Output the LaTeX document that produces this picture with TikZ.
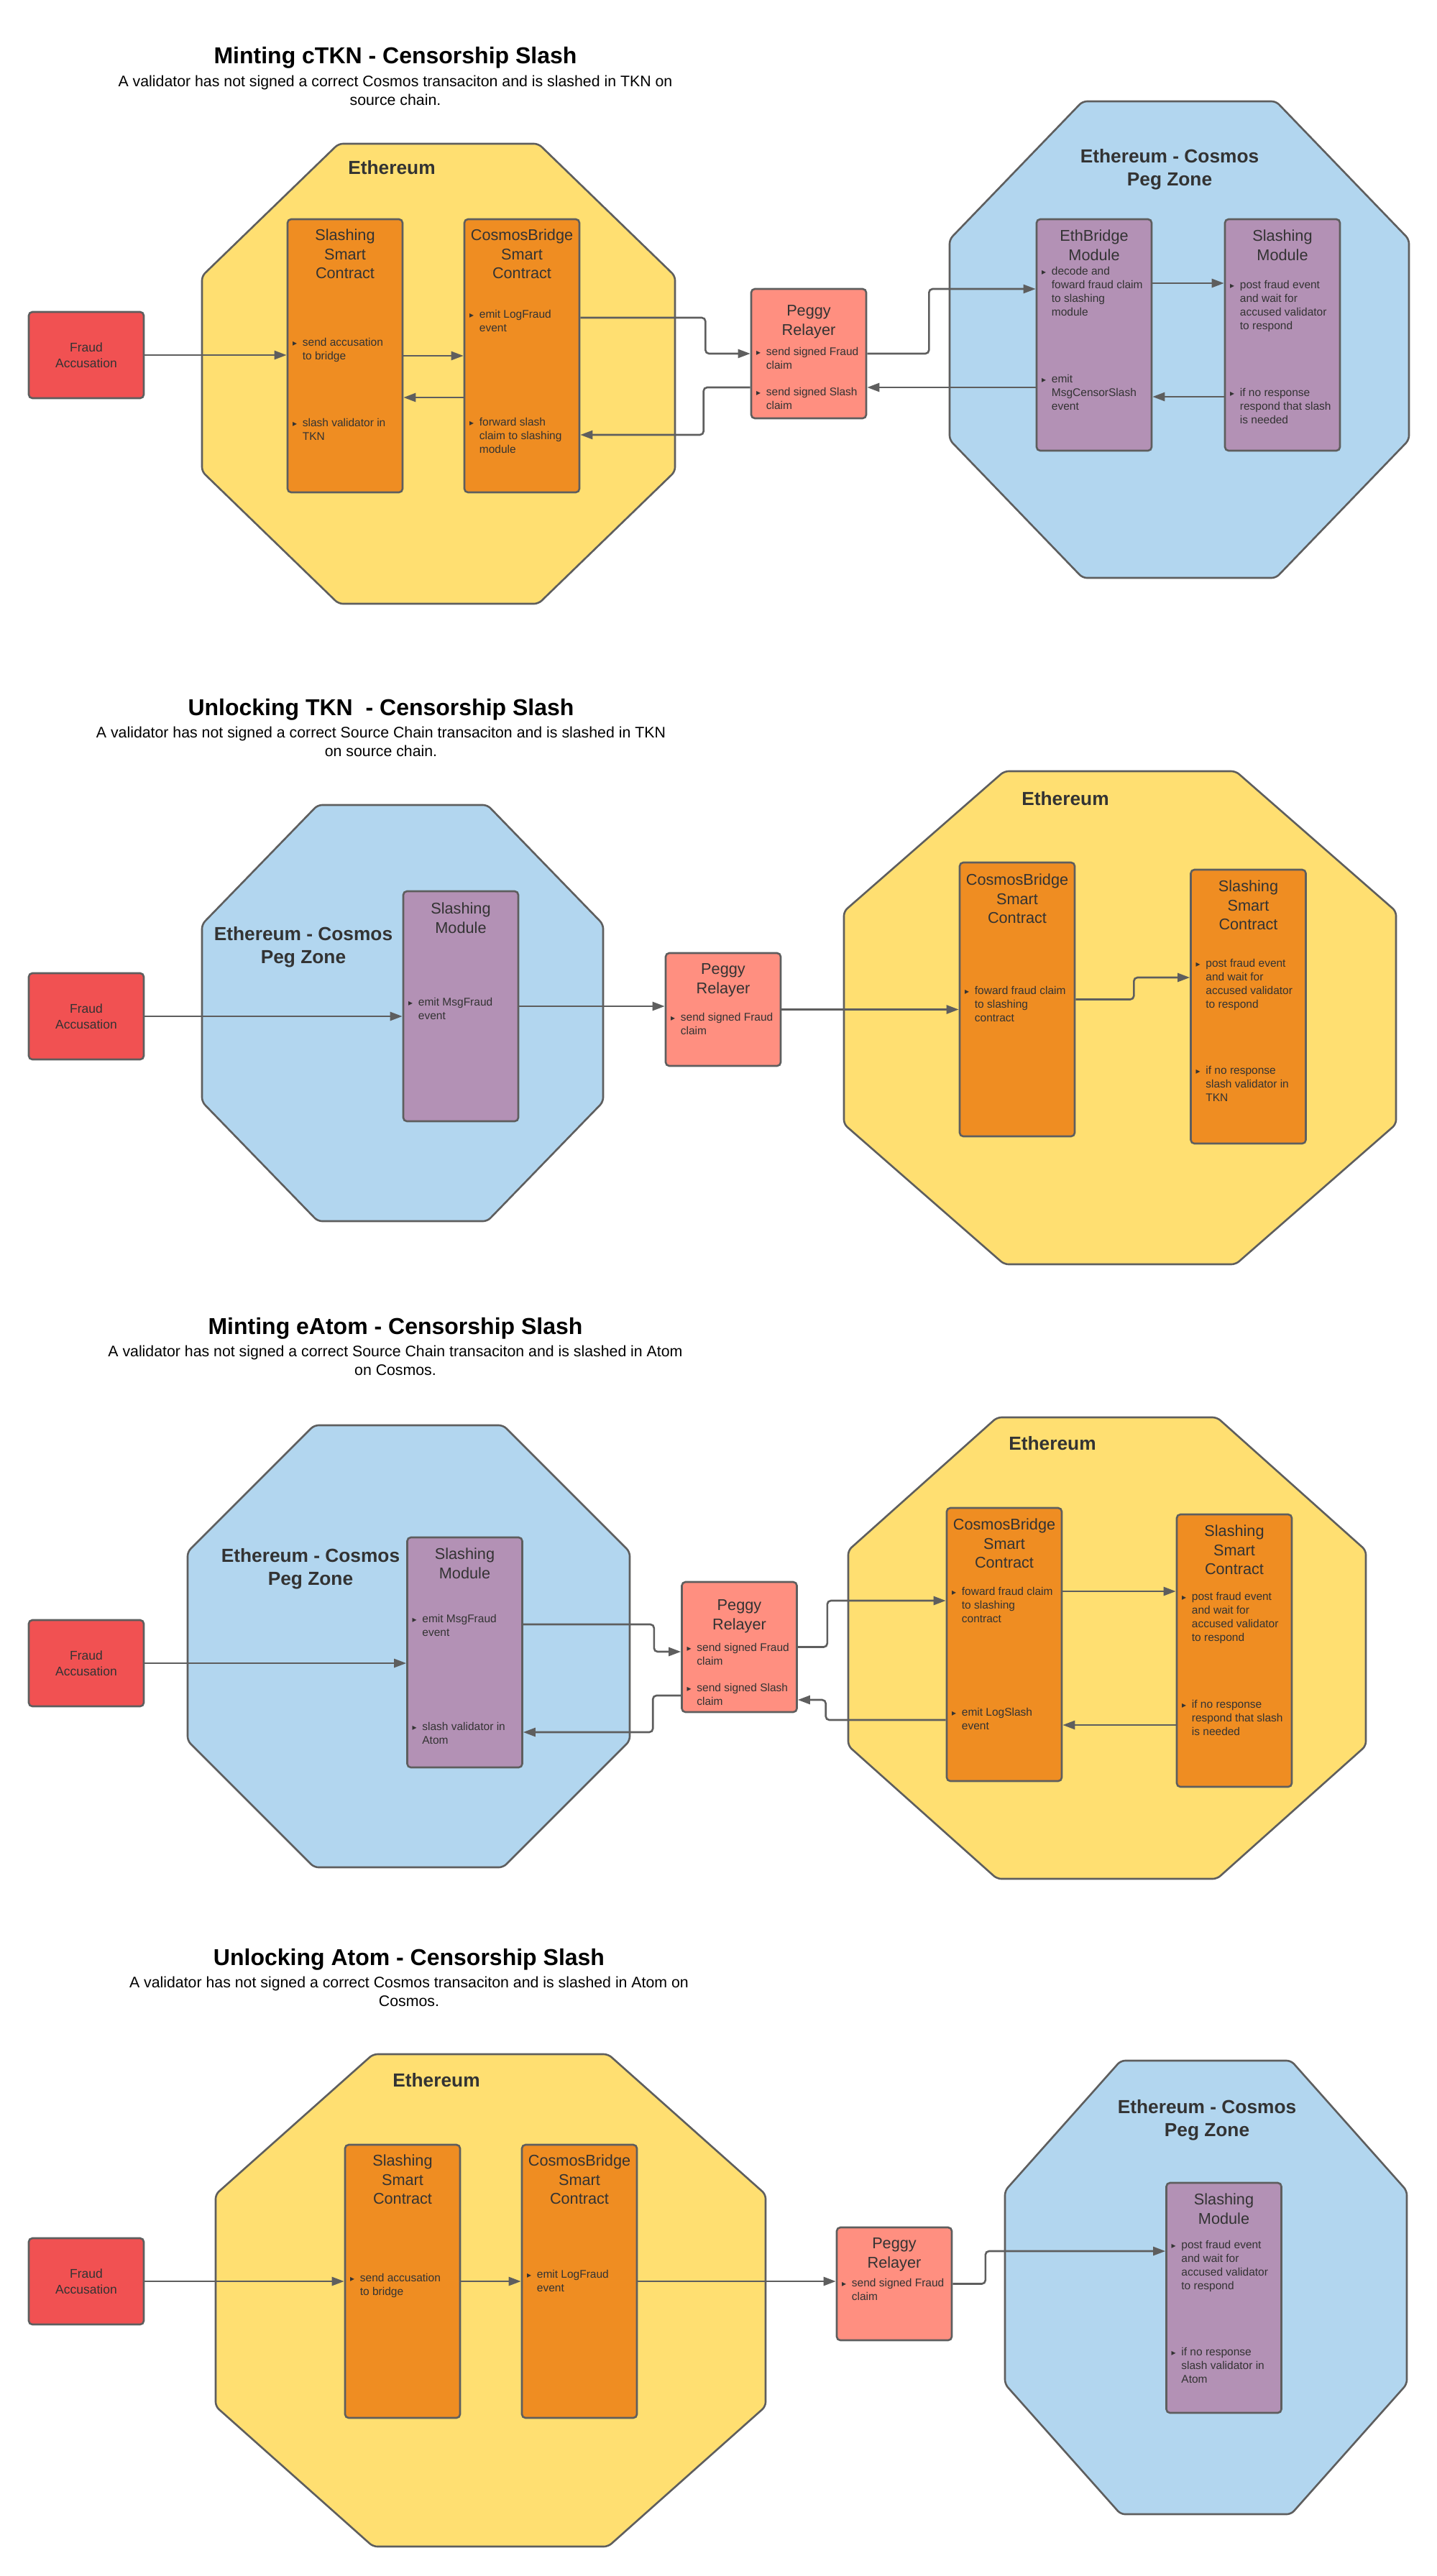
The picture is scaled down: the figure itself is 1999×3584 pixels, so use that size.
\documentclass[tikz,border=0pt]{standalone}
\usepackage{fontspec}
\setmainfont{Liberation Sans}
\newfontfamily\symfont{DejaVu Sans}
\usetikzlibrary{positioning,arrows.meta}

\definecolor{ethyel}{HTML}{FFDF71}
\definecolor{pegblue}{HTML}{B2D6EF}
\definecolor{contract}{HTML}{EF8D22}
\definecolor{module}{HTML}{B391B5}
\definecolor{relayer}{HTML}{FF8F80}
\definecolor{fraud}{HTML}{F15152}
\definecolor{edge}{HTML}{5E5E5E}
\definecolor{txt}{HTML}{333333}

% octagon: style, left, top, right, bottom, x cut, y cut (pixels, y down)
\newcommand\octo[7]{\draw[zone=#1] (#2+#6,-#3) -- (#4-#6,-#3) -- (#4,-#3-#7) -- (#4,-#5+#7) -- (#4-#6,-#5) -- (#2+#6,-#5) -- (#2,-#5+#7) -- (#2,-#3-#7) -- cycle;}

\begin{document}
\begin{tikzpicture}[x=1pt,y=1pt]
\tikzset{
  box/.style={draw=edge, line width=2.6pt, rounded corners=5pt, fill=#1, minimum width=160pt, inner sep=0pt},
  zone/.style={draw=edge, line width=2.6pt, rounded corners=6pt, fill=#1},
  head/.style={font=\fontsize{32}{38}\selectfont\bfseries, text=black},
  sub/.style={font=\fontsize{21.3}{25.5}\selectfont, text=black, align=center},
  zonetitle/.style={font=\fontsize{26.3}{32}\selectfont\bfseries, text=txt, align=center},
  boxtitle/.style={font=\fontsize{21.7}{26.7}\selectfont, text=txt, align=center, inner sep=0pt, yshift=-5pt, execute at begin node=\strut},
  fraudtext/.style={font=\fontsize{17.5}{21.5}\selectfont, text=txt, align=center},
  item/.style={font=\fontsize{15.5}{19}\selectfont, text=txt, align=left, inner sep=0pt, yshift=-2.5pt, execute at begin node=\strut, label={[bul]north west:▸}},
  bul/.style={font=\symfont\fontsize{12}{12}\selectfont, text=txt, inner sep=0pt, anchor=center, xshift=-10.5pt, yshift=-8.6pt, execute at begin node={}},
  conn/.style={draw=edge, line width=2.6pt, rounded corners=5pt, -{Triangle[length=17pt,width=12pt]}},
}
\fill[white] (0,0) rectangle (1999,-3584);
\useasboundingbox (0,0) rectangle (1999,-3584);

\node[head] (h1) at (550,-80) {Minting cTKN - Censorship Slash};
\node[sub] (s1) at (550,-126) {A validator has not signed a correct Cosmos transaciton and is slashed in TKN on\\source chain.};
\octo{ethyel}{281}{200}{939}{840}{190}{184}
\octo{pegblue}{1321}{141}{1960}{804}{185}{192}
\node[zonetitle] (eth1) at (545,-233) {Ethereum};
\node[zonetitle] (peg1) at (1627,-236) {Ethereum - Cosmos\\Peg Zone};

\node[box=fraud, minimum height=120pt, fraudtext] (fa1) at (120,-494) {Fraud\\Accusation};
\node[box=contract, minimum height=380pt] (sc1) at (480,-495) {};
\node[box=contract, minimum height=380pt] (cb1) at (726,-495) {};
\node[box=relayer, minimum height=180pt] (pr1) at (1125,-492) {};
\node[box=module, minimum height=322pt] (eb1) at (1522,-466) {};
\node[box=module, minimum height=322pt] (sm1) at (1784,-466) {};

\node[boxtitle, below=9.8pt of sc1.north] (sc1t) {Slashing\\Smart\\Contract};
\node[boxtitle, below=9.8pt of cb1.north] (cb1t) {CosmosBridge\\Smart\\Contract};
\node[boxtitle, below=18.8pt of pr1.north] (pr1t) {Peggy\\Relayer};
\node[boxtitle, below=10.8pt of eb1.north] (eb1t) {EthBridge\\Module};
\node[boxtitle, below=10.8pt of sm1.north] (sm1t) {Slashing\\Module};

\node[item, below right=163.4pt and 22pt of sc1.north west] (sc1a) {send accusation\\to bridge};
\node[item, below right=275.4pt and 22pt of sc1.north west] (sc1b) {slash validator in\\TKN};
\node[item, below right=124.4pt and 22pt of cb1.north west] (cb1a) {emit LogFraud\\event};
\node[item, below right=274.4pt and 22pt of cb1.north west] (cb1b) {forward slash\\claim to slashing\\module};
\node[item, below right=79.4pt and 22pt of pr1.north west] (pr1a) {send signed Fraud\\claim};
\node[item, below right=135.4pt and 22pt of pr1.north west] (pr1b) {send signed Slash\\claim};
\node[item, below right=64.4pt and 22pt of eb1.north west] (eb1a) {decode and\\foward fraud claim\\to slashing\\module};
\node[item, below right=214.4pt and 22pt of eb1.north west] (eb1b) {emit\\MsgCensorSlash\\event};
\node[item, below right=83.4pt and 22pt of sm1.north west] (sm1a) {post fraud event\\and wait for\\accused validator\\to respond};
\node[item, below right=233.4pt and 22pt of sm1.north west] (sm1b) {if no response\\respond that slash\\is needed};

\draw[conn] (fa1.east) -- (fa1.east -| sc1.west);
\draw[conn] (sc1.east) -- (cb1.west);
\draw[conn] ([yshift=-58pt]cb1.west) -- ([yshift=-58pt]sc1.east);
\draw[conn] ([yshift=53pt]cb1.east) -- ++(174,0) |- (pr1.west);
\draw[conn] ([yshift=-47pt]pr1.west) -- ++(-65,0) |- ([yshift=-110pt]cb1.east);
\draw[conn] (pr1.east) -- ++(86,0) |- ([yshift=64pt]eb1.west);
\draw[conn] ([yshift=-73pt]eb1.west) -- ([yshift=-73pt]eb1.west -| pr1.east);
\draw[conn] ([yshift=72pt]eb1.east) -- ([yshift=72pt]sm1.west);
\draw[conn] ([yshift=-86pt]sm1.west) -- ([yshift=-86pt]eb1.east);

\node[head] (h2) at (530,-987) {Unlocking TKN~ - Censorship Slash};
\node[sub] (s2) at (530,-1032) {A validator has not signed a correct Source Chain transaciton and is slashed in TKN\\on source chain.};
\octo{pegblue}{281}{1120}{839}{1699}{161}{166}
\octo{ethyel}{1174}{1073}{1942}{1759}{223}{195}
\node[zonetitle] (peg2) at (422,-1318) {Ethereum - Cosmos\\Peg Zone};
\node[zonetitle] (eth2) at (1482,-1111) {Ethereum};

\node[box=fraud, minimum height=120pt, fraudtext] (fa2) at (120,-1414) {Fraud\\Accusation};
\node[box=module, minimum height=320pt] (sm2) at (641,-1400) {};
\node[box=relayer, minimum height=157pt] (pr2) at (1006,-1404.5) {};
\node[box=contract, minimum height=381pt] (cb2) at (1415,-1390.5) {};
\node[box=contract, minimum height=381pt] (sc2) at (1736.5,-1400.5) {};

\node[boxtitle, below=11.8pt of sm2.north] (sm2t) {Slashing\\Module};
\node[boxtitle, below=10.8pt of pr2.north] (pr2t) {Peggy\\Relayer};
\node[boxtitle, below=11.8pt of cb2.north] (cb2t) {CosmosBridge\\Smart\\Contract};
\node[boxtitle, below=10.8pt of sc2.north] (sc2t) {Slashing\\Smart\\Contract};

\node[item, below right=146.4pt and 22pt of sm2.north west] (sm2a) {emit MsgFraud\\event};
\node[item, below right=81.4pt and 22pt of pr2.north west] (pr2a) {send signed Fraud\\claim};
\node[item, below right=170.4pt and 22pt of cb2.north west] (cb2a) {foward fraud claim\\to slashing\\contract};
\node[item, below right=122.4pt and 22pt of sc2.north west] (sc2a) {post fraud event\\and wait for\\accused validator\\to respond};
\node[item, below right=271.4pt and 22pt of sc2.north west] (sc2b) {if no response\\slash validator in\\TKN};

\draw[conn] (fa2.east) -- (fa2.east -| sm2.west);
\draw[conn] (sm2.east) -- (sm2.east -| pr2.west);
\draw[conn] (pr2.east) -- (pr2.east -| cb2.west);
\draw[conn] (cb2.east) -- ++(81,0) |- ([yshift=40.5pt]sc2.west);

\node[head] (h3) at (550,-1848) {Minting eAtom - Censorship Slash};
\node[sub] (s3) at (550,-1893) {A validator has not signed a correct Source Chain transaciton and is slashed in Atom\\on Cosmos.};
\octo{pegblue}{261}{1983}{876}{2598}{176}{176}
\octo{ethyel}{1180}{1972}{1900}{2614}{207}{185}
\node[zonetitle] (peg3) at (432,-2183) {Ethereum - Cosmos\\Peg Zone};
\node[zonetitle] (eth3) at (1464,-2008) {Ethereum};

\node[box=fraud, minimum height=120pt, fraudtext] (fa3) at (120,-2314) {Fraud\\Accusation};
\node[box=module, minimum height=320pt] (sm3) at (646.5,-2299) {};
\node[box=relayer, minimum height=181pt] (pr3) at (1028.5,-2291.5) {};
\node[box=contract, minimum height=380pt] (cb3) at (1397,-2288) {};
\node[box=contract, minimum height=379pt] (sc3) at (1717,-2296.5) {};

\node[boxtitle, below=10.8pt of sm3.north] (sm3t) {Slashing\\Module};
\node[boxtitle, below=20.8pt of pr3.north] (pr3t) {Peggy\\Relayer};
\node[boxtitle, below=10.8pt of cb3.north] (cb3t) {CosmosBridge\\Smart\\Contract};
\node[boxtitle, below=10.8pt of sc3.north] (sc3t) {Slashing\\Smart\\Contract};

\node[item, below right=105.4pt and 22pt of sm3.north west] (sm3a) {emit MsgFraud\\event};
\node[item, below right=255.4pt and 22pt of sm3.north west] (sm3b) {slash validator in\\Atom};
\node[item, below right=83.4pt and 22pt of pr3.north west] (pr3a) {send signed Fraud\\claim};
\node[item, below right=139.4pt and 22pt of pr3.north west] (pr3b) {send signed Slash\\claim};
\node[item, below right=108.4pt and 22pt of cb3.north west] (cb3a) {foward fraud claim\\to slashing\\contract};
\node[item, below right=276.4pt and 22pt of cb3.north west] (cb3b) {emit LogSlash\\event};
\node[item, below right=106.4pt and 22pt of sc3.north west] (sc3a) {post fraud event\\and wait for\\accused validator\\to respond};
\node[item, below right=256.4pt and 22pt of sc3.north west] (sc3b) {if no response\\respond that slash\\is needed};

\draw[conn] (fa3.east) -- (fa3.east -| sm3.west);
\draw[conn] ([yshift=39pt]sm3.east) -- ++(182,0) |- ([yshift=-6.5pt]pr3.west);
\draw[conn] ([yshift=-67.5pt]pr3.west) -- ++(-39,0) |- ([yshift=-111pt]sm3.east);
\draw[conn] (pr3.east) -- ++(41,0) |- ([yshift=61pt]cb3.west);
\draw[conn] ([yshift=-105pt]cb3.west) -- ++(-167,0) |- ([yshift=-73.5pt]pr3.east);
\draw[conn] ([yshift=74pt]cb3.east) -- ([yshift=74pt]cb3.east -| sc3.west);
\draw[conn] ([yshift=-103.5pt]sc3.west) -- ([yshift=-103.5pt]sc3.west -| cb3.east);

\node[head] (h4) at (569,-2726) {Unlocking Atom - Censorship Slash};
\node[sub] (s4) at (569,-2771) {A validator has not signed a correct Cosmos transaciton and is slashed in Atom on\\Cosmos.};
\octo{ethyel}{300}{2858}{1065}{3543}{219}{195}
\octo{pegblue}{1398}{2867}{1957}{3498}{161}{181}
\node[zonetitle] (eth4) at (607,-2894) {Ethereum};
\node[zonetitle] (peg4) at (1679,-2950) {Ethereum - Cosmos\\Peg Zone};

\node[box=fraud, minimum height=120pt, fraudtext] (fa4) at (120,-3174) {Fraud\\Accusation};
\node[box=contract, minimum height=380pt] (sc4) at (560,-3174) {};
\node[box=contract, minimum height=380pt] (cb4) at (806,-3174) {};
\node[box=relayer, minimum height=157pt] (pr4) at (1244,-3177.5) {};
\node[box=module, minimum height=320pt] (sm4) at (1702.5,-3197) {};

\node[boxtitle, below=9.8pt of sc4.north] (sc4t) {Slashing\\Smart\\Contract};
\node[boxtitle, below=9.8pt of cb4.north] (cb4t) {CosmosBridge\\Smart\\Contract};
\node[boxtitle, below=10.8pt of pr4.north] (pr4t) {Peggy\\Relayer};
\node[boxtitle, below=10.8pt of sm4.north] (sm4t) {Slashing\\Module};

\node[item, below right=177.4pt and 22pt of sc4.north west] (sc4a) {send accusation\\to bridge};
\node[item, below right=172.4pt and 22pt of cb4.north west] (cb4a) {emit LogFraud\\event};
\node[item, below right=69.4pt and 22pt of pr4.north west] (pr4a) {send signed Fraud\\claim};
\node[item, below right=78.4pt and 22pt of sm4.north west] (sm4a) {post fraud event\\and wait for\\accused validator\\to respond};
\node[item, below right=227.4pt and 22pt of sm4.north west] (sm4b) {if no response\\slash validator in\\Atom};

\draw[conn] (fa4.east) -- (sc4.west);
\draw[conn] (sc4.east) -- (cb4.west);
\draw[conn] (cb4.east) -- (cb4.east -| pr4.west);
\draw[conn] (pr4.east) -- ++(45.5,0) |- ([yshift=65pt]sm4.west);
\end{tikzpicture}
\end{document}
